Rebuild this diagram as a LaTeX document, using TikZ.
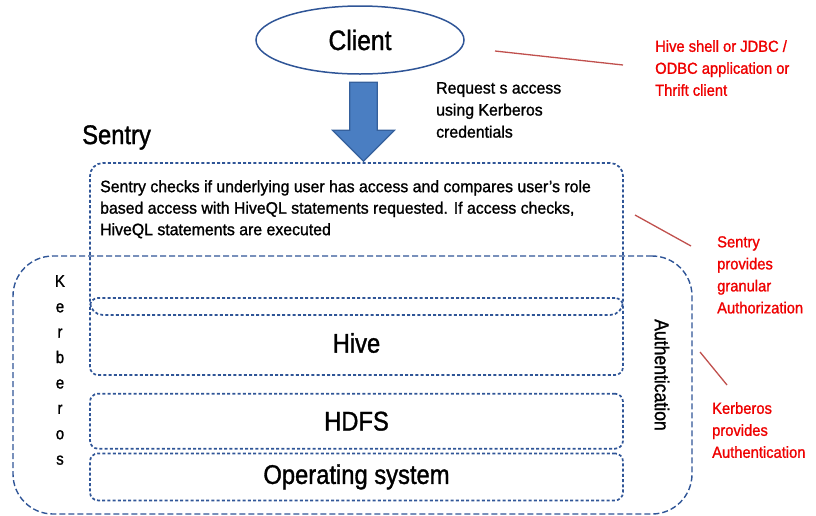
\documentclass[tikz,border=0pt]{standalone}
\usepackage{fontspec}
\setmainfont{Liberation Sans}[FakeStretch=0.88,FakeBold=1.2]
\newfontfamily\bodyfont{Liberation Sans}[FakeStretch=0.96,FakeBold=1.2]
\newfontfamily\notefont{Liberation Sans}[FakeStretch=0.92,FakeBold=1.2]
\usetikzlibrary{positioning,shapes,arrows}

\definecolor{boxblue}{HTML}{2F5597}
\definecolor{arrowblue}{HTML}{4A7EC2}
\definecolor{arrowedge}{HTML}{35609C}
\definecolor{notered}{HTML}{EE0000}
\definecolor{linered}{HTML}{C0504D}

\tikzset{
  layer/.style={draw=boxblue, line width=1.7pt, dash pattern=on 3pt off 2.2pt,
    rounded corners=8pt, minimum width=533pt, inner sep=0pt},
  big/.style={font=\fontsize{27}{30}\selectfont, inner sep=0pt},
  small/.style={font=\bodyfont\fontsize{16.5}{22}\selectfont, align=left, inner sep=0pt, anchor=north west},
  note/.style={small, font=\notefont\fontsize{16}{22}\selectfont, text=notered},
  pointer/.style={draw=linered, line width=1.3pt},
}

\begin{document}
\begin{tikzpicture}[x=1pt,y=-1pt]
\useasboundingbox (0,0) rectangle (816,515);
% the kerberos frame round the stack
\node[draw=boxblue, line width=1.4pt, dash pattern=on 6pt off 3pt, rounded corners=40pt,
  minimum width=679pt, minimum height=258pt] (kerb) at (352.5,385) {};
% layers
\node[layer, rounded corners=13pt, minimum height=152pt] (sentrybox) at (356.5,239) {};
\node[layer, minimum height=77pt] (hive) at (356.5,336.5) {};
\node[layer, minimum height=55pt, big] (hdfs) [below=17pt of hive] {HDFS};
\node[layer, minimum height=47pt, big] (os) [below=3pt of hdfs] {Operating system};
\node[big] (hivelbl) at (356.5,343) {Hive};
% client and request
\node[draw=boxblue, line width=1.5pt, ellipse, minimum width=208pt, minimum height=68pt,
  font=\fontsize{28}{30}\selectfont] (client) at (360,40) {Client};
\node[single arrow, draw=arrowedge, fill=arrowblue, line width=1.2pt, shape border rotate=270,
  single arrow head extend=17pt, single arrow head indent=0pt, minimum width=62pt,
  minimum height=79pt, inner sep=13pt, anchor=tip] (req) at ([xshift=7pt]sentrybox.north) {};
\node[small] (reqtext) at (436,82) {Request s access\\using Kerberos\\credentials};
\node[big, anchor=north west] (sentrylbl) at (82,125) {Sentry};
\node[small, font=\bodyfont\fontsize{16.5}{21.5}\selectfont] (sentrytext) at (100,180)
  {Sentry checks if underlying user has access and compares user’s role\\
   based access with HiveQL statements requested. If access checks,\\
   HiveQL statements are executed};
% side labels
\node[align=center, inner sep=0pt, font=\fontsize{17}{25.4}\selectfont] (kerblbl) at (60,370)
  {K\\e\\r\\b\\e\\r\\o\\s};
\node[rotate=-90, inner sep=0pt, font=\fontsize{20}{22}\selectfont] (authlbl) at (662,375) {Authentication};
% red notes
\node[note] (clientnote) at (655,40) {Hive shell or JDBC /\\ODBC application or\\Thrift client};
\node[note] (sentrynote) at (717,236) {Sentry\\provides\\granular\\Authorization};
\node[note] (kerbnote) at (712,402) {Kerberos\\provides\\Authentication};
% the pointers
\coordinate (p1a) at (495,51);
\coordinate (p1b) at (623,65);
\coordinate (p2a) at (635,215);
\coordinate (p2b) at (691,246);
\coordinate (p3a) at (700,352);
\coordinate (p3b) at (727,385);
\draw[pointer] (p1a) -- (p1b);
\draw[pointer] (p2a) -- (p2b);
\draw[pointer] (p3a) -- (p3b);
\end{tikzpicture}
\end{document}
